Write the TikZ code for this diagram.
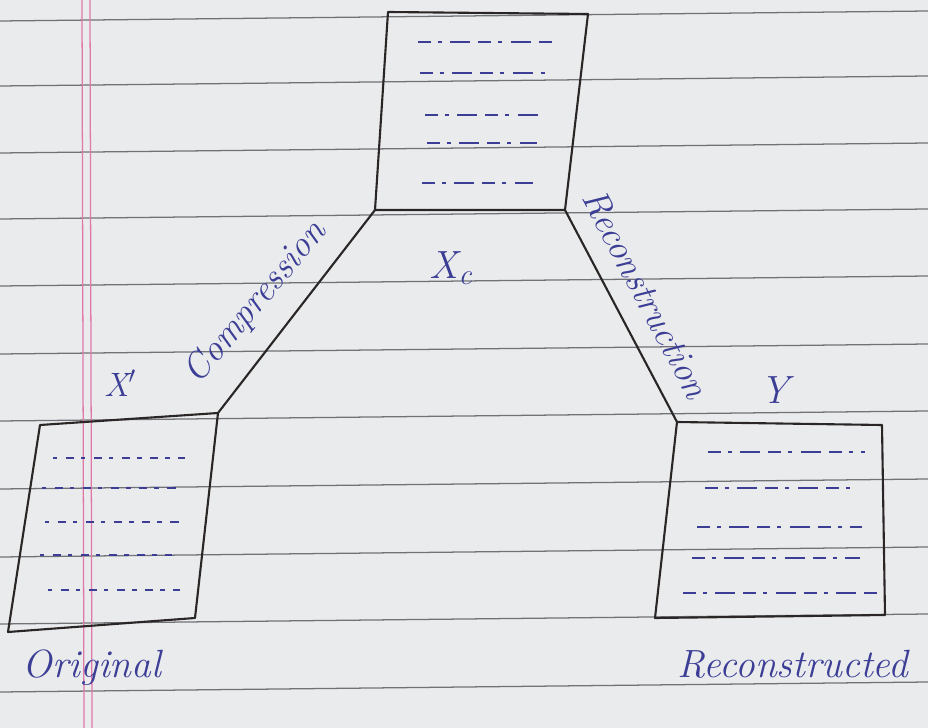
\documentclass[tikz,border=0pt]{standalone}
\usetikzlibrary{positioning}
\definecolor{paper}{RGB}{233,235,237}
\definecolor{rulegray}{RGB}{112,114,118}
\definecolor{marginpink}{RGB}{226,120,170}
\definecolor{pen}{RGB}{42,38,38}
\definecolor{ink}{RGB}{60,62,150}

\begin{document}
\begin{tikzpicture}[
  x=0.025cm, y=-0.025cm,
  ruleline/.style={draw=rulegray, line width=0.9pt},
  marginline/.style={draw=marginpink, line width=0.9pt},
  pen/.style={draw=pen, line width=1.5pt, line join=round},
  scribble/.style={draw=ink, line width=1.3pt, dash pattern=on 9pt off 5pt on 3pt off 6pt on 14pt off 6pt},
  dotty/.style={draw=ink, line width=1pt, dash pattern=on 3pt off 6pt on 6pt off 5pt},
  note/.style={text=ink, font=\itshape},
  big/.style={note, font=\itshape\fontsize{28}{30}\selectfont},
  slant/.style={note, font=\itshape\fontsize{26}{28}\selectfont}
]

% Paper
\fill[paper] (0,0) rectangle (928,728);
\useasboundingbox (0,0) rectangle (928,728);
\foreach \y in {15,80,147,213,280,348,415,483,551,618,686}
  \draw[ruleline] (0,\y+6) -- (928,\y-4);
\draw[marginline] (82,0) -- (84,728);
\draw[marginline] (90,0) -- (92,728);

% Corners of the three sheets
\coordinate (xcNW) at (388,12);
\coordinate (xcNE) at (588,14);
\coordinate (xcSE) at (565,210);
\coordinate (xcSW) at (375,210);

\coordinate (orgNW) at (40,425);
\coordinate (orgNE) at (218,413);
\coordinate (orgSE) at (195,618);
\coordinate (orgSW) at (8,632);

\coordinate (recNW) at (677,422);
\coordinate (recNE) at (882,425);
\coordinate (recSE) at (885,615);
\coordinate (recSW) at (655,618);

% Sheets
\draw[pen] (xcNW) -- (xcNE) -- (xcSE) -- (xcSW) -- cycle;
\draw[pen] (orgNW) -- (orgNE) -- (orgSE) -- (orgSW) -- cycle;
\draw[pen] (recNW) -- (recNE) -- (recSE) -- (recSW) -- cycle;

% Links
\draw[pen] (xcSW) -- (orgNE);
\draw[pen] (xcSE) -- (recNW);

% Text rows in the sheets
\foreach \y/\a/\b in {42/418/558, 73/420/545, 115/425/542, 143/427/537, 183/422/533}
  \draw[scribble] (\a,\y) -- (\b,\y);
\foreach \y/\a/\b in {458/53/185, 488/42/180, 522/45/180, 555/40/172, 590/48/180}
  \draw[dotty] (\a,\y) -- (\b,\y);
\foreach \y/\a/\b in {452/708/865, 488/705/857, 527/697/862, 558/692/860, 593/683/877}
  \draw[scribble] (\a,\y) -- (\b,\y);

% Labels
\node[big] (xclabel) at (452,268) {X$_{\mathit{c}}$};
\node[note, font=\itshape\fontsize{24}{26}\selectfont] (xlabel) at (120,383) {X$'$};
\node[big] (ylabel) at (775,390) {Y};
\node[slant, rotate=50] (comp) at (256,303) {Compression};
\node[slant, rotate=-62] (recon) at (646,294) {Reconstruction};
\node[big] (orig) at (92,668) {Original};
\node[big] (rec) at (793,664) {Reconstructed};

\end{tikzpicture}
\end{document}
